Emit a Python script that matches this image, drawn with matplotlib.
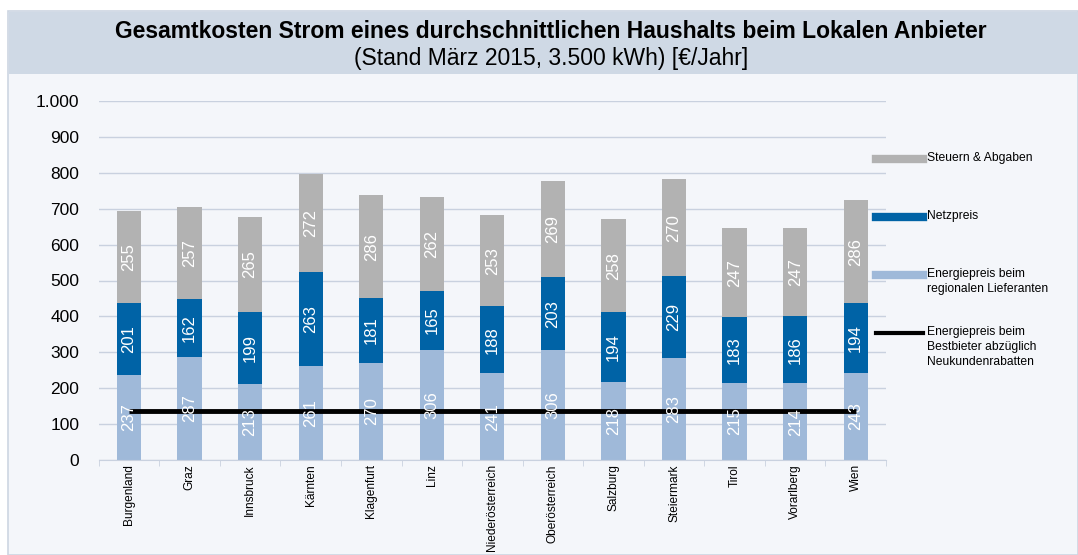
import matplotlib.pyplot as plt
from matplotlib.patches import Rectangle
from matplotlib.lines import Line2D

plt.rcParams['font.family'] = ['Liberation Sans', 'DejaVu Sans']

# data
regions = ["Burgenland", "Graz", "Innsbruck", "Kärnten", "Klagenfurt", "Linz",
           "Niederösterreich", "Oberösterreich", "Salzburg", "Steiermark",
           "Tirol", "Vorarlberg", "Wien"]
energie = [237, 287, 213, 261, 270, 306, 241, 306, 218, 283, 215, 214, 243]
netz = [201, 162, 199, 263, 181, 165, 188, 203, 194, 229, 183, 186, 194]
steuern = [255, 257, 265, 272, 286, 262, 253, 269, 258, 270, 247, 247, 286]
bestbieter = 137

c_grey = "#b2b2b2"
c_blue = "#0063a6"
c_light = "#9fb9d9"
bg = "#f4f6fa"

W, H = 1078, 555
fig = plt.figure(figsize=(W / 100, H / 100), dpi=100)
fig.patch.set_facecolor("white")

# panel background and title band
fig.add_artist(Rectangle((8 / W, 0), 1 - 8 / W, 1 - 11 / H, transform=fig.transFigure,
                         facecolor=bg, edgecolor="#cdd6e2", lw=1.2, zorder=-2))
fig.add_artist(Rectangle((9 / W, 1 - 74 / H), 1 - 9 / W, 62 / H, transform=fig.transFigure,
                         facecolor="#cfd9e5", edgecolor="none", zorder=-1))
fig.text(0.5 + 12 / W, 1 - 32 / H,
         "Gesamtkosten Strom eines durchschnittlichen Haushalts beim Lokalen Anbieter",
         ha="center", va="center", fontsize=16.5, fontweight="bold")
fig.text(0.5 + 12 / W, 1 - 59 / H, "(Stand März 2015, 3.500 kWh) [€/Jahr]",
         ha="center", va="center", fontsize=16.5)

ax = fig.add_axes([98.7 / W, 1 - 460 / H, (886 - 98.7) / W, 359 / H])
ax.set_facecolor(bg)

x = list(range(len(regions)))
bw = 0.4
b1 = [e for e in energie]
b2 = [e + n for e, n in zip(energie, netz)]
ax.bar(x, energie, bw, color=c_light, zorder=2)
ax.bar(x, netz, bw, bottom=b1, color=c_blue, zorder=2)
ax.bar(x, steuern, bw, bottom=b2, color=c_grey, zorder=2)
ax.plot(x, [bestbieter] * len(x), color="black", lw=3.5, zorder=3, solid_capstyle="butt")

for i in x:
    for bot, val in [(0, energie[i]), (b1[i], netz[i]), (b2[i], steuern[i])]:
        ax.text(i, bot + val / 2, str(val), rotation=90, ha="center", va="center",
                color="white", fontsize=12, zorder=4)

ax.set_xlim(-0.5, len(regions) - 0.5)
ax.set_ylim(0, 1000)
ax.set_yticks(range(0, 1001, 100))
ax.set_yticklabels(["0", "100", "200", "300", "400", "500", "600", "700", "800", "900", "1.000"],
                   fontsize=12.5)
ax.yaxis.grid(True, color="#c9d1df", lw=1)
ax.set_axisbelow(True)
ax.tick_params(axis="y", length=0, pad=14)

ax.set_xticks(x)
ax.set_xticklabels(regions, rotation=90, fontsize=8.6, va="top")
ax.set_xticks([i - 0.5 for i in range(len(regions) + 1)], minor=True)
ax.tick_params(axis="x", which="major", length=0, pad=3)
ax.tick_params(axis="x", which="minor", length=4, color="#c9d1df")

for s in ["top", "right", "left"]:
    ax.spines[s].set_visible(False)
ax.spines["bottom"].set_color("#c9d1df")

# legend on the right
legend = [
    (c_grey, 6, 159, "Steuern & Abgaben"),
    (c_blue, 6, 217, "Netzpreis"),
    (c_light, 6, 275, "Energiepreis beim\nregionalen Lieferanten"),
    ("black", 3, 333, "Energiepreis beim\nBestbieter abzüglich\nNeukundenrabatten"),
]
for col, lw, ypix, label in legend:
    fig.add_artist(Line2D([876 / W, 923 / W], [1 - ypix / H, 1 - ypix / H],
                          transform=fig.transFigure, color=col, lw=lw))
    fig.text(927 / W, 1 - (ypix - 7) / H, label, ha="left", va="top", fontsize=8.7,
             linespacing=1.35)

fig.savefig("out.png", dpi=100, facecolor=fig.get_facecolor())
